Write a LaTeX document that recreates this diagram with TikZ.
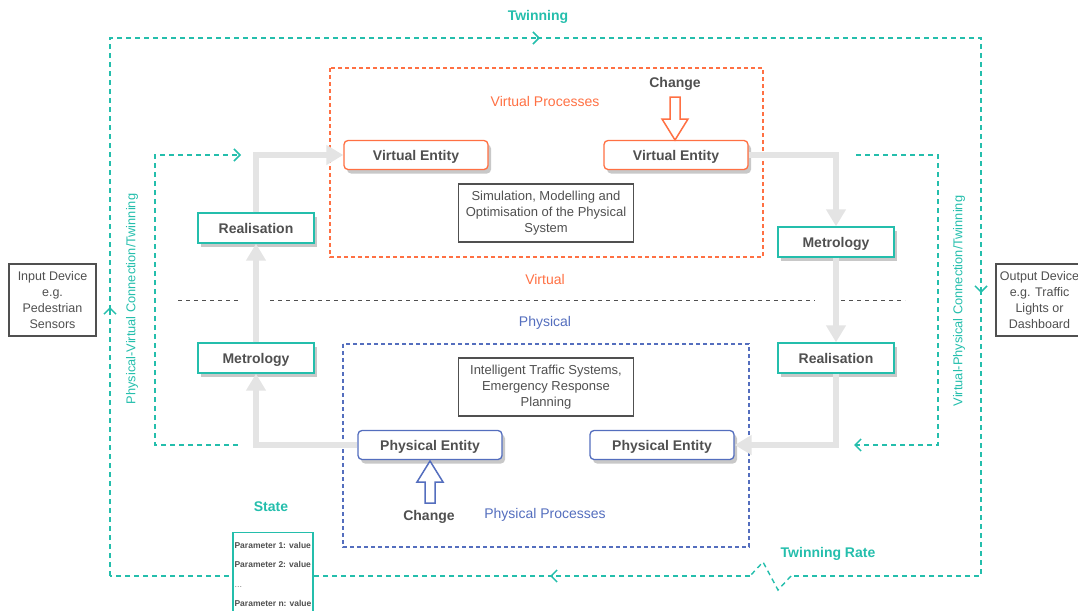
\documentclass[tikz,border=0pt]{standalone}
\usepackage{fontspec}
\setmainfont{Liberation Sans}
\usetikzlibrary{arrows.meta}

\definecolor{twin}{RGB}{36,190,172}
\definecolor{orng}{RGB}{255,112,67}
\definecolor{blu}{RGB}{84,110,190}
\definecolor{txtgray}{RGB}{80,80,80}
\definecolor{flowgray}{RGB}{228,228,228}
\definecolor{shade}{RGB}{200,200,200}

\begin{document}
\begin{tikzpicture}[x=1pt,y=-1pt,
    boxshadow/.style={preaction={fill=shade, transform canvas={xshift=3pt,yshift=-4pt}}},
    entity/.style={rounded corners=4pt, line width=1.3pt, fill=white,
        minimum width=144pt, minimum height=29pt, text=txtgray,
        text height=10pt, text depth=0pt,
        font=\fontsize{14}{16}\selectfont\bfseries, boxshadow},
    stage/.style={draw=twin, line width=1.3pt, fill=white,
        minimum width=116pt, minimum height=30pt, text=txtgray,
        text height=10pt, text depth=0pt,
        font=\fontsize{14}{16}\selectfont\bfseries, boxshadow},
    infobox/.style={draw=txtgray, line width=1.1pt, fill=white, align=center,
        minimum width=175pt, minimum height=58pt, text=txtgray,
        font=\fontsize{13}{16}\selectfont},
    devbox/.style={draw=txtgray, line width=1.1pt, fill=white, align=center,
        minimum width=87pt, minimum height=72pt, text=txtgray, inner sep=1pt,
        font=\fontsize{12.5}{15.8}\selectfont},
    lab/.style={font=\fontsize{14}{16}\selectfont},
    boldlab/.style={font=\fontsize{14}{16}\selectfont\bfseries},
    twinline/.style={twin, line width=1.4pt, dash pattern=on 5pt off 4pt},
    barb/.style={-{Straight Barb[length=6pt,width=12pt,line width=1.5pt]}},
    flow/.style={flowgray, line width=6pt, -{Triangle[width=19pt,length=17pt]}},
    hollow/.style={line width=1.5pt, fill=white, line join=miter}]
    \useasboundingbox (0,0) rectangle (1078,610);

    % outer twinning loop
    \draw[twinline,barb] (110,576) -- (110,307);
    \draw[twinline,barb] (110,310) -- (110,38) -- (540,38);
    \draw[twinline,barb] (537,38) -- (981,38) -- (981,293);
    \draw[twinline] (981,290) -- (981,576) -- (791,576);
    \draw[twinline] (791,576) -- (778,590) -- (763,562) -- (750,576);
    \draw[twinline,barb] (750,576) -- (550,576);
    \draw[twinline] (553,576) -- (110,576);

    % process regions
    \draw[orng, line width=1.2pt, dash pattern=on 4pt off 3pt] (330,68) rectangle (763,257);
    \draw[blu, line width=1.2pt, dash pattern=on 4pt off 3pt] (343,344) rectangle (749,547);
    \draw[txtgray, line width=1pt, dash pattern=on 4pt off 4pt] (178,300) -- (240,300)
        (270,300) -- (815,300) (841,300) -- (905,300);

    % text labels
    \node[boldlab, text=twin] (twinlab) at (538,17) {Twinning};
    \node[lab, text=orng] (vproc) at (545,101) {Virtual Processes};
    \node[lab, text=blu] (pproc) at (545,515) {Physical Processes};
    \node[lab, text=orng] (virtlab) at (545,279) {Virtual};
    \node[lab, text=blu] (physlab) at (545,323) {Physical};
    \node[boldlab, text=txtgray] (chgv) at (675,84) {Change};
    \node[boldlab, text=txtgray] (chgp) at (429,517) {Change};
    \node[boldlab, text=twin] (statelab) at (271,507) {State};
    \node[boldlab, text=twin] (ratelab) at (828,554) {Twinning Rate};
    \node[rotate=90, text=twin, font=\fontsize{12.8}{14}\selectfont] (pvlab)
        at (132,299) {Physical-Virtual Connection/Twinning};
    \node[rotate=90, text=twin, font=\fontsize{12.8}{14}\selectfont] (vplab)
        at (959,301) {Virtual-Physical Connection/Twinning};

    % entities and stages
    \node[entity, draw=orng] (ve1) at (416,155) {Virtual Entity};
    \node[entity, draw=orng] (ve2) at (676,155) {Virtual Entity};
    \node[entity, draw=blu] (pe1) at (430,445) {Physical Entity};
    \node[entity, draw=blu] (pe2) at (662,445) {Physical Entity};
    \node[stage] (real1) at (256,228) {Realisation};
    \node[stage] (met1) at (256,358) {Metrology};
    \node[stage] (met2) at (836,242) {Metrology};
    \node[stage] (real2) at (836,358) {Realisation};

    \node[infobox] (sim) at (546,213) {Simulation, Modelling and\\Optimisation of the Physical\\System};
    \node[infobox] (its) at (546,387) {Intelligent Traffic Systems,\\Emergency Response\\Planning};
    \node[devbox] (indev) at (52.5,300) {Input Device\\e.g.\\Pedestrian\\Sensors};
    \node[devbox] (outdev) at (1039.5,300) {Output Device\\e.g. Traffic\\Lights or\\Dashboard};

    % flow between stages
    \draw[flow] (pe1.west) -| (met1.south);
    \draw[flow] (met1.north) -- (real1.south);
    \draw[flow] (real1.north) |- (ve1.west);
    \draw[flow] (ve2.east) -| (met2.north);
    \draw[flow] (met2.south) -- (real2.north);
    \draw[flow] (real2.south) |- (pe2.east);

    % inner connection loops
    \coordinate (pvstart) at (238,445);
    \coordinate (pvend) at (241,155);
    \coordinate (vpstart) at (856,155);
    \coordinate (vpend) at (854,445);
    \draw[twinline,barb] (pvstart) -- (155,445) -- (155,155) -- (pvend);
    \draw[twinline,barb] (vpstart) -- (938,155) -- (938,445) -- (vpend);

    % change arrows
    \draw[hollow, draw=orng] (670,97) -- (680,97) -- (680,119) -- (688,119)
        -- (675,140) -- (662,119) -- (670,119) -- cycle;
    \draw[hollow, draw=blu] (425,503) -- (435,503) -- (435,482) -- (443,482)
        -- (430,461) -- (417,482) -- (425,482) -- cycle;

    % state parameters
    \node[draw=twin, line width=1.3pt, fill=white, anchor=north, align=left,
        minimum width=80pt, inner xsep=1pt, inner ysep=10pt,
        text=txtgray, font=\fontsize{8.5}{11}\selectfont\bfseries]
        (params) at (273,532) {Parameter 1: value\\[8pt]Parameter 2: value\\[9pt]%
        {\color{gray}\fontsize{9}{9}\selectfont\mdseries ...}\\[8pt]Parameter n: value};
\end{tikzpicture}
\end{document}
